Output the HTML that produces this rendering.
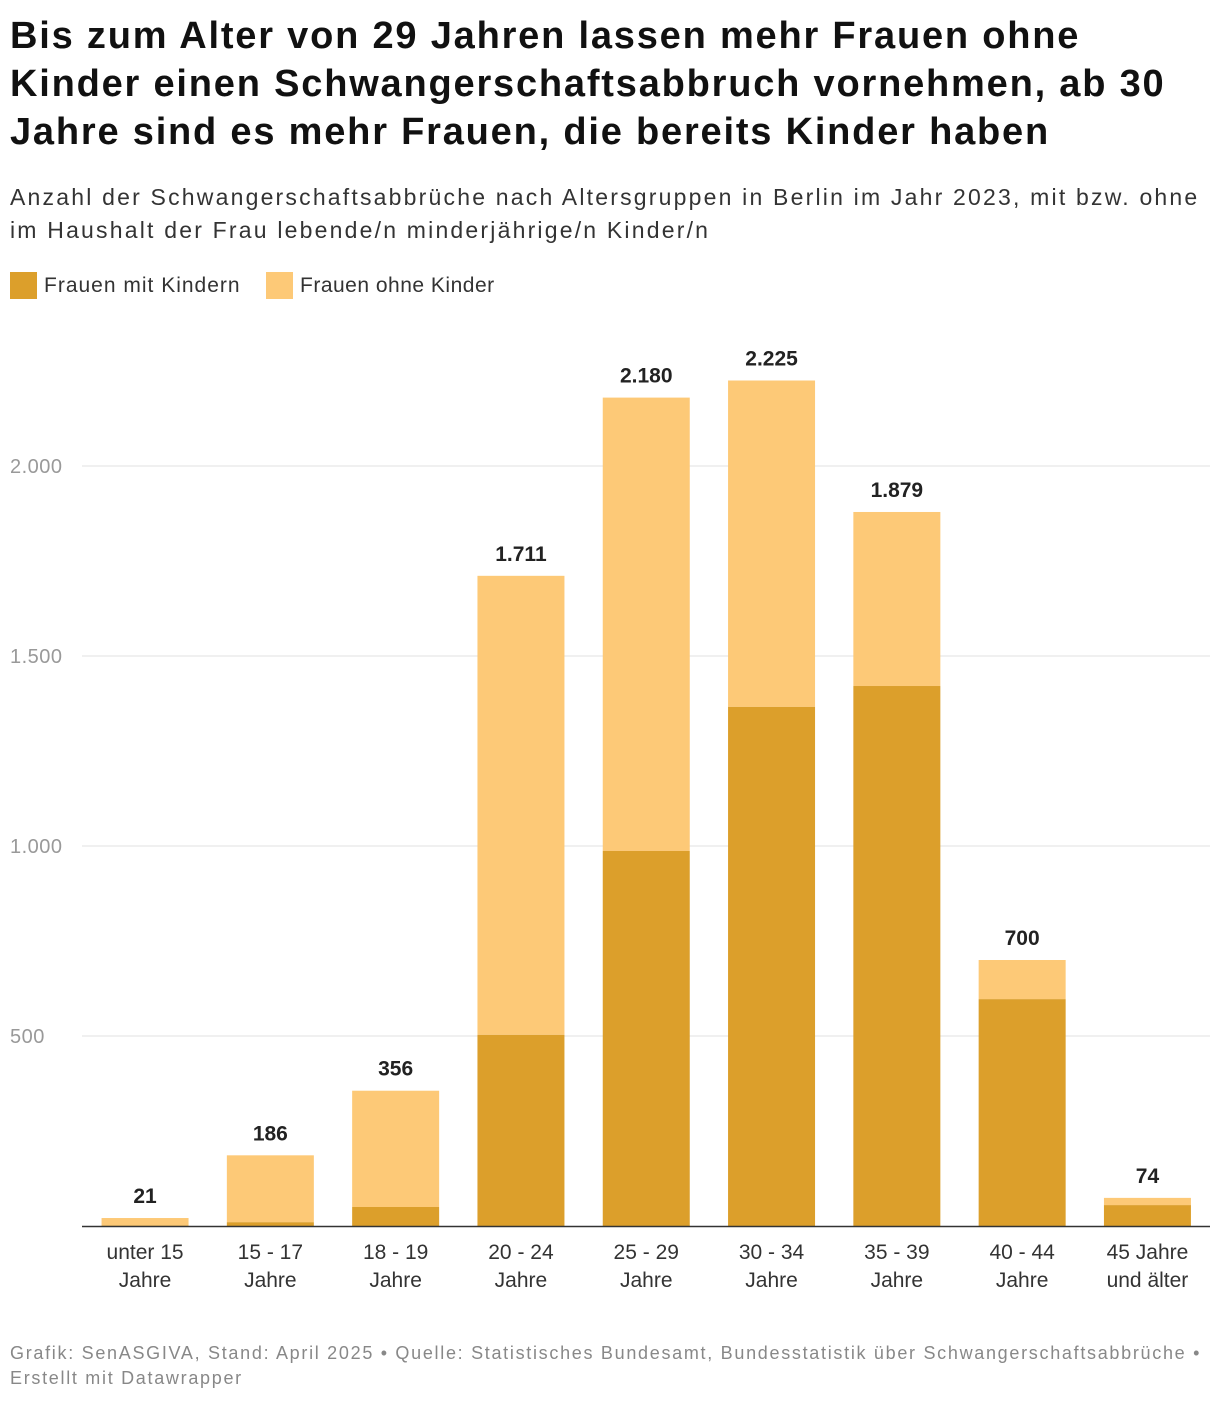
<!DOCTYPE html>
<html><head><meta charset="utf-8"><style>
body{margin:0;background:#fff;font-family:"Liberation Sans",sans-serif;}
#wrap{position:relative;width:1220px;height:1402px;overflow:hidden}
h1{position:absolute;left:10px;top:12px;margin:0;font-size:38px;line-height:48px;font-weight:bold;color:#111;width:1210px;white-space:nowrap;letter-spacing:1.8px}
.sub{position:absolute;left:10px;top:181px;font-size:23px;line-height:33px;color:#333;width:1210px;white-space:nowrap;letter-spacing:2.2px}
.leg{position:absolute;top:272px;font-size:21px;color:#333;display:flex;align-items:center}
.sw{width:27px;height:27px;margin-right:7px}
.foot{position:absolute;left:10px;top:1341px;font-size:18px;line-height:25px;color:#888;white-space:nowrap;letter-spacing:1.7px}
</style></head><body><div id="wrap">
<h1>Bis zum Alter von 29 Jahren lassen mehr Frauen ohne<br>Kinder einen Schwangerschaftsabbruch vornehmen, ab 30<br>Jahre sind es mehr Frauen, die bereits Kinder haben</h1>
<div class="sub">Anzahl der Schwangerschaftsabbrüche nach Altersgruppen in Berlin im Jahr 2023, mit bzw. ohne<br>im Haushalt der Frau lebende/n minderjährige/n Kinder/n</div>
<div class="leg" style="left:10px;letter-spacing:1px"><div class="sw" style="background:#dc9f2b"></div>Frauen mit Kindern</div>
<div class="leg" style="left:266px;letter-spacing:0.5px"><div class="sw" style="background:#fdc977"></div>Frauen ohne Kinder</div>
<svg id="chart" width="1220" height="1402" style="position:absolute;left:0;top:0"></svg>
<div class="foot">Grafik: SenASGIVA, Stand: April 2025 • Quelle: Statistisches Bundesamt, Bundesstatistik über Schwangerschaftsabbrüche •<br>Erstellt mit Datawrapper</div>
</div>
<script>
const categories=[["unter 15","Jahre"],["15 - 17","Jahre"],["18 - 19","Jahre"],["20 - 24","Jahre"],["25 - 29","Jahre"],["30 - 34","Jahre"],["35 - 39","Jahre"],["40 - 44","Jahre"],["45 Jahre","und älter"]];
const totals=[21,186,356,1711,2180,2225,1879,700,74];
const mitKindern=[1,10,50,503,987,1366,1421,597,55];
const totalLabels=["21","186","356","1.711","2.180","2.225","1.879","700","74"];
const yTicks=[500,1000,1500,2000];
const yTickLabels=["500","1.000","1.500","2.000"];
const NS="http://www.w3.org/2000/svg",svg=document.getElementById('chart');
const y0=1226,yPer=760/2000,x0=82.4,step=125.3,bw=87;
const y=v=>y0-v*yPer, xc=i=>x0+step*(i+0.5);
function mk(t,a,txt){const e=document.createElementNS(NS,t);for(const k in a)e.setAttribute(k,a[k]);if(txt!=null)e.textContent=txt;svg.appendChild(e);return e;}
yTicks.forEach((v,i)=>{
 const l=mk('line',{x1:82,x2:1210,y1:y(v),y2:y(v),stroke:'#e0e0e0','stroke-width':1});
 
 
 const t=mk('text',{x:10,y:y(v)+7,'font-size':20,fill:'#999','letter-spacing':0.5},yTickLabels[i]);
 
 
});
categories.forEach((c,i)=>{
 const cx=xc(i);
 const r1=mk('rect',{x:cx-bw/2,y:y(totals[i]),width:bw,height:(totals[i]-mitKindern[i])*yPer,fill:'#fdc977'});
 
 
 const r2=mk('rect',{x:cx-bw/2,y:y(mitKindern[i]),width:bw,height:mitKindern[i]*yPer,fill:'#dc9f2b'});
 
 
 const v=mk('text',{x:cx,y:y(totals[i])-15,'font-size':21,'font-weight':'bold',fill:'#222','text-anchor':'middle'},totalLabels[i]);
 
 
 c.forEach((s,j)=>{
  const t=mk('text',{x:cx,y:1259+j*28,'font-size':21,fill:'#333','text-anchor':'middle'},s);
  
  
 });
});
const ax=mk('line',{x1:82,x2:1210,y1:y0+0.5,y2:y0+0.5,stroke:'#333','stroke-width':1.5});


</script></body></html>
